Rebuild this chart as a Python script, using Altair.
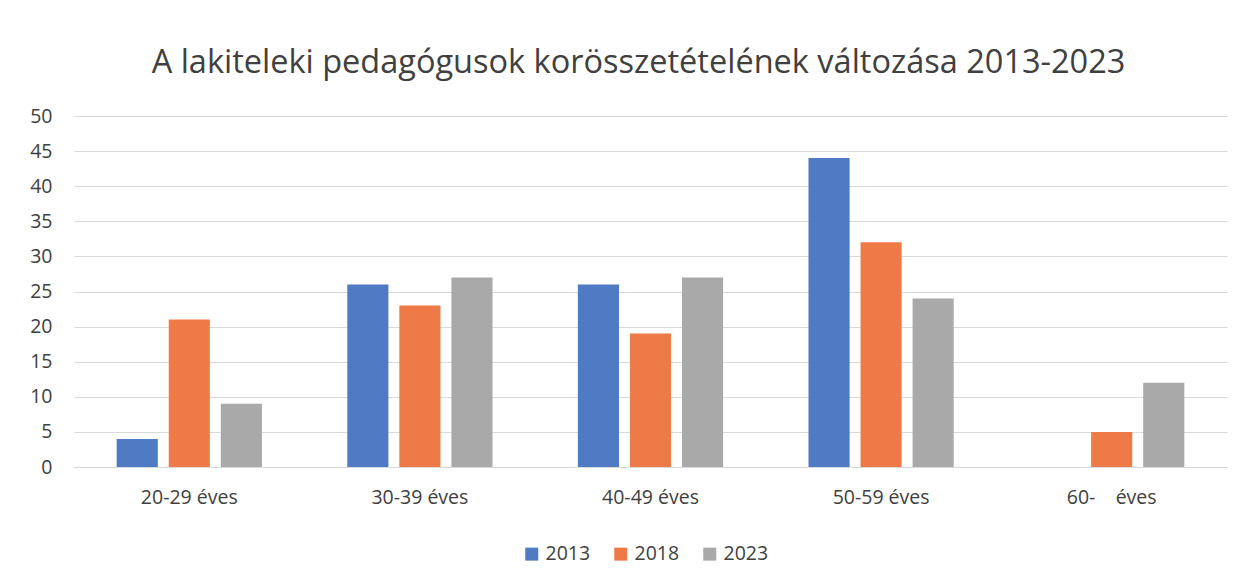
import altair as alt
import pandas as pd

categories = ["20-29 éves", "30-39 éves", "40-49 éves", "50-59 éves", "60-\u00a0\u00a0\u00a0\u00a0éves"]
years = ["2013", "2018", "2023"]
v2013 = [4, 26, 26, 44, 0]
v2018 = [21, 23, 19, 32, 5]
v2023 = [9, 27, 27, 24, 12]
colors = ["#4f7bc4", "#ee7b47", "#a9a9a9"]

rows = []
for i, c in enumerate(categories):
    for y, vals in zip(years, [v2013, v2018, v2023]):
        rows.append({"kat": c, "ev": y, "db": vals[i]})
df = pd.DataFrame(rows)

FONT = "Open Sans"
TXT = "#404040"
FS = 19.5

chart = alt.Chart(df).mark_bar().encode(
    x=alt.X("kat:N", sort=categories, title=None,
            scale=alt.Scale(paddingInner=0, paddingOuter=0),
            axis=alt.Axis(labelAngle=0, ticks=False, domain=True, domainColor="#d9d9d9",
                          labelPadding=21, labelFontSize=FS, labelColor=TXT, labelFont=FONT)),
    xOffset=alt.XOffset("ev:N", sort=years,
                        scale=alt.Scale(paddingInner=0.21, paddingOuter=0.82)),
    y=alt.Y("db:Q", title=None,
            scale=alt.Scale(domain=[0, 50], nice=False),
            axis=alt.Axis(values=list(range(0, 51, 5)), ticks=False, domain=False,
                          gridColor="#d9d9d9", labelPadding=22, labelFontSize=FS,
                          labelColor=TXT, labelFont=FONT)),
    color=alt.Color("ev:N", sort=years, scale=alt.Scale(domain=years, range=colors),
                    legend=alt.Legend(title=None, orient="none", direction="horizontal",
                                      legendX=448, legendY=428,
                                      symbolType="square", symbolSize=169, symbolStrokeWidth=0,
                                      labelFontSize=FS, labelColor=TXT, labelFont=FONT,
                                      columnPadding=20, labelOffset=4)),
).properties(
    width=1153, height=351,
    autosize=alt.AutoSizeParams(type="none"),
    padding={"left": 66, "top": 108, "right": 19, "bottom": 110},
    title=alt.TitleParams("A lakiteleki pedagógusok korösszetételének változása 2013-2023",
                          fontSize=32.5, font=FONT, fontWeight="normal", color=TXT,
                          anchor="middle", dx=-12, offset=27),
).configure_view(stroke=None)

chart.save("out.html", embed_options={"renderer": "svg", "actions": False})
